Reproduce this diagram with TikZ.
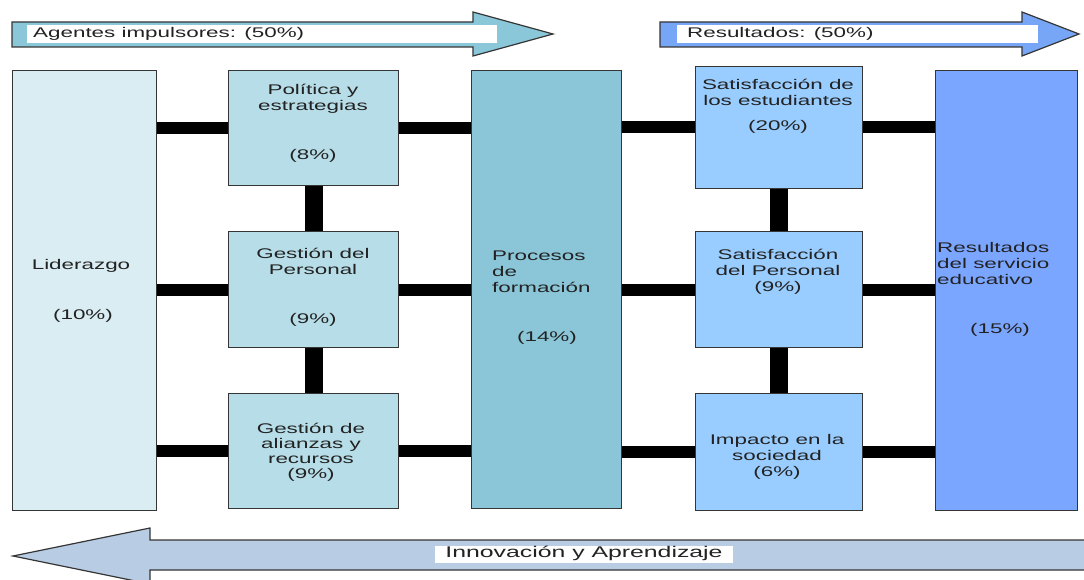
\documentclass[tikz,border=0pt]{standalone}
\usepackage{fontspec}
\setmainfont{Liberation Sans}
\usepackage{graphicx}
\newcommand{\W}[2][c]{\scalebox{1.6}[1]{\begin{tabular}{@{}#1@{}}#2\end{tabular}}}
\definecolor{cLid}{HTML}{DAEDF3}
\definecolor{cCol}{HTML}{B7DEE8}
\definecolor{cProc}{HTML}{8AC6D8}
\definecolor{cSat}{HTML}{99CCFF}
\definecolor{cRes}{HTML}{7BA6FF}
\definecolor{cArrL}{HTML}{8AC7D9}
\definecolor{cArrR}{HTML}{78A6F6}
\definecolor{cArrB}{HTML}{B8CCE4}
\definecolor{cLine}{HTML}{353535}
\definecolor{cText}{HTML}{222222}
\begin{document}
\begin{tikzpicture}[x=1pt,y=-1pt,
  box/.style={draw=cLine, line width=1pt, inner sep=0pt, anchor=north west},
  hbar/.style={line width=12pt, black},
  vbar/.style={line width=18pt, black},
  arrline/.style={draw=cLine, line width=1.2pt, line join=miter},
  txt/.style={inner sep=0pt, text=cText, font=\fontsize{14}{16}\selectfont},
  lbl/.style={fill=white, inner sep=0pt, anchor=west}]
\clip (0,0) rectangle (1084,580);
\fill[white] (0,0) rectangle (1084,580);

% top and bottom arrows
\draw[arrline, fill=cArrL] (12,22) -- (473,22) -- (473,12) -- (553,34) -- (473,56) -- (473,47) -- (12,47) -- cycle;
\node[lbl, minimum width=470pt, minimum height=18pt] (agbox) at (27,34) {};
\node[txt, anchor=west] (agtxt) at (33,34) {\W{Agentes impulsores: (50\%)}};

\draw[arrline, fill=cArrR] (660,22) -- (1022,22) -- (1022,12) -- (1079,34) -- (1022,56) -- (1022,47) -- (660,47) -- cycle;
\node[lbl, minimum width=361pt, minimum height=18pt] (rsbox) at (677,34) {};
\node[txt, anchor=west] (rstxt) at (687,34) {\W{Resultados: (50\%)}};

\draw[arrline, fill=cArrB] (1095,540) -- (150,540) -- (150,528) -- (13,556) -- (150,584) -- (150,570) -- (1095,570) -- cycle;
\node[lbl, minimum width=298pt, minimum height=17pt] (inbox) at (435,554) {};
\node[txt, font=\fontsize{15.5}{17}\selectfont] (intxt) at (584,554) {\W{Innovación y Aprendizaje}};

% boxes
\node[box, fill=cLid, minimum width=144pt, minimum height=440pt] (lid) at (12,70) {};
\node[box, fill=cCol, minimum width=170pt, minimum height=115pt] (pol) at (228,70) {};
\node[box, fill=cCol, minimum width=170pt, minimum height=116pt] (gp) at (228,231) {};
\node[box, fill=cCol, minimum width=170pt, minimum height=115pt] (ga) at (228,393) {};
\node[box, fill=cProc, minimum width=150pt, minimum height=438pt] (proc) at (471,70) {};
\node[box, fill=cSat, minimum width=167pt, minimum height=122pt] (s1) at (695,66) {};
\node[box, fill=cSat, minimum width=167pt, minimum height=116pt] (s2) at (695,231) {};
\node[box, fill=cSat, minimum width=167pt, minimum height=117pt] (imp) at (695,393) {};
\node[box, fill=cRes, minimum width=142pt, minimum height=440pt] (res) at (935,70) {};

% connectors
\draw[hbar] (lid.east |- pol.west) -- (pol.west);
\draw[hbar] (pol.east) -- (pol.east -| proc.west);
\draw[hbar] (lid.east |- gp.west) -- (gp.west);
\draw[hbar] (gp.east) -- (gp.east -| proc.west);
\draw[hbar] (lid.east |- ga.west) -- (ga.west);
\draw[hbar] (ga.east) -- (ga.east -| proc.west);
\draw[hbar] (proc.east |- s1.west) -- (s1.west);
\draw[hbar] (s1.east) -- (s1.east -| res.west);
\draw[hbar] (proc.east |- s2.west) -- (s2.west);
\draw[hbar] (s2.east) -- (s2.east -| res.west);
\draw[hbar] (proc.east |- imp.west) -- (imp.west);
\draw[hbar] (imp.east) -- (imp.east -| res.west);
\draw[vbar] (pol.south) -- (gp.north);
\draw[vbar] (gp.south) -- (ga.north);
\draw[vbar] (s1.south) -- (s2.north);
\draw[vbar] (s2.south) -- (imp.north);

% texts
\node[txt] (lidA) at (81,266) {\W{Liderazgo}};
\node[txt] (lidB) at (83,316) {\W{(10\%)}};
\node[txt] (polA) at (313,99) {\W{Política y\\estrategias}};
\node[txt] (polB) at (313,156) {\W{(8\%)}};
\node[txt] (gpA) at (313,263) {\W{Gestión del\\Personal}};
\node[txt] (gpB) at (313,320) {\W{(9\%)}};
\node[txt, font=\fontsize{14}{15}\selectfont] (gaA) at (311,453) {\W{Gestión de\\alianzas y\\recursos\\(9\%)}};
\node[txt, anchor=west] (procA) at (492,273) {\W[l]{Procesos\\de\\formación}};
\node[txt] (procB) at (547,338) {\W{(14\%)}};
\node[txt] (s1A) at (778,94) {\W{Satisfacción de\\los estudiantes}};
\node[txt] (s1B) at (778,127) {\W{(20\%)}};
\node[txt] (s2A) at (778,272) {\W{Satisfacción\\del Personal\\(9\%)}};
\node[txt] (impA) at (777,457) {\W{Impacto en la\\sociedad\\(6\%)}};
\node[txt, anchor=west] (resA) at (937,265) {\W[l]{Resultados\\del servicio\\educativo}};
\node[txt] (resB) at (1000,330) {\W{(15\%)}};
\end{tikzpicture}
\end{document}
